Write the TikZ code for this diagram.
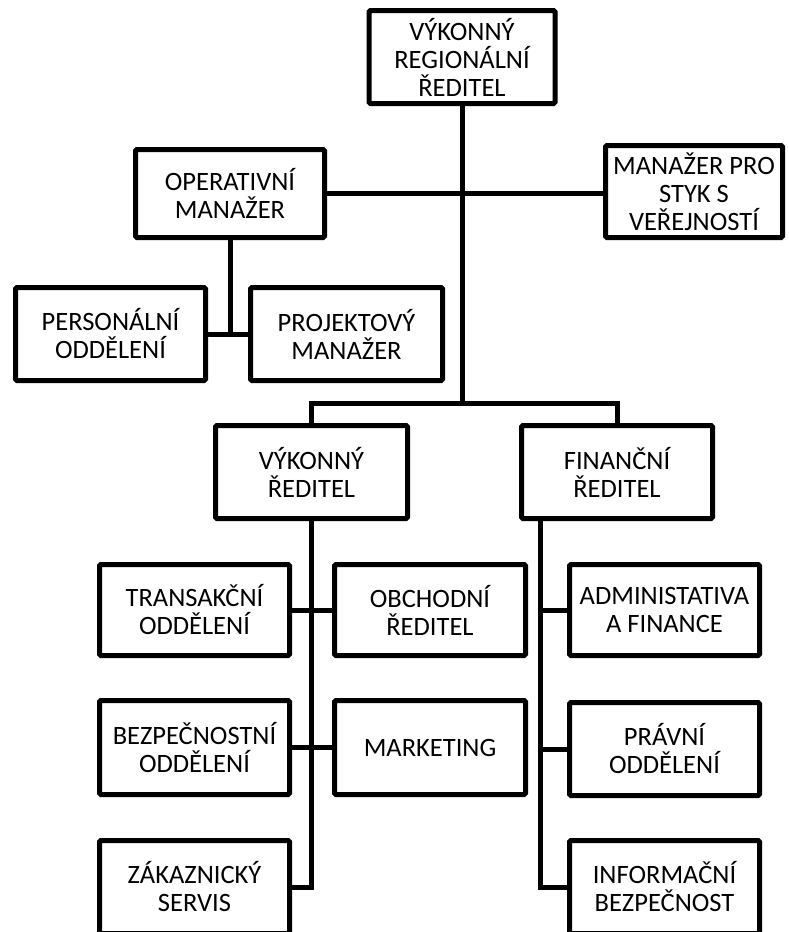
\documentclass[tikz,border=0pt]{standalone}
\usepackage{fontspec}
\setmainfont{Carlito}
\begin{document}
\begin{tikzpicture}[x=1pt,y=-1pt,
  box/.style={draw,line width=5pt,rounded corners=1.5pt,inner sep=0pt,
    minimum width=190pt,minimum height=93pt,align=center,
    font=\fontsize{26.5}{28}\selectfont},
  conn/.style={draw,line width=5pt}]
\clip (0,0) rectangle (789,932);
\node[box,minimum width=186pt] (reg) at (462,57) {VÝKONNÝ\\REGIONÁLNÍ\\ŘEDITEL};
\node[box,minimum width=189pt,minimum height=88pt] (oper) at (230,193.5) {OPERATIVNÍ\\MANAŽER};
\node[box,minimum width=177pt,minimum height=92pt] (styk) at (694,191.5) {MANAŽER PRO\\STYK S\\VEŘEJNOSTÍ};
\node[box] (pers) at (110.5,334) {PERSONÁLNÍ\\ODDĚLENÍ};
\node[box,minimum width=192pt] (proj) at (346.5,334) {PROJEKTOVÝ\\MANAŽER};
\node[box,minimum width=192pt] (vyk) at (311.5,472) {VÝKONNÝ\\ŘEDITEL};
\node[box,minimum width=191pt] (fin) at (617,472) {FINANČNÍ\\ŘEDITEL};
\node[box,minimum height=91pt] (trans) at (194.5,610) {TRANSAKČNÍ\\ODDĚLENÍ};
\node[box,minimum width=191pt,minimum height=91pt] (obch) at (430,610) {OBCHODNÍ\\ŘEDITEL};
\node[box,minimum height=91pt] (admin) at (664.5,610) {ADMINISTATIVA\\A FINANCE};
\node[box,minimum height=94pt] (bezp) at (194.5,747.5) {BEZPEČNOSTNÍ\\ODDĚLENÍ};
\node[box,minimum width=191pt,minimum height=94pt] (mark) at (430,747.5) {MARKETING};
\node[box] (prav) at (664.5,749) {PRÁVNÍ\\ODDĚLENÍ};
\node[box] (zak) at (194.5,887) {ZÁKAZNICKÝ\\SERVIS};
\node[box] (inf) at (664.5,887) {INFORMAČNÍ\\BEZPEČNOST};
\coordinate (bus) at (462,403);
\coordinate (fspine) at (540,0);
\draw[conn] (reg.south) -- (bus);
\draw[conn] (oper.east) -- (oper.east -| styk.west);
\draw[conn] (oper.south) -- (oper.south |- pers.east);
\draw[conn] (pers.east) -- (proj.west);
\draw[conn] (vyk.north) -- (vyk.north |- bus) -- (fin.north |- bus) -- (fin.north);
\draw[conn] (vyk.south) -- (vyk.south |- zak.east) -- (zak.east);
\draw[conn] (trans.east) -- (obch.west);
\draw[conn] (bezp.east) -- (mark.west);
\draw[conn] (fin.south -| fspine) -- (fspine |- inf.west) -- (inf.west);
\draw[conn] (fspine |- admin.west) -- (admin.west);
\draw[conn] (fspine |- prav.west) -- (prav.west);
\end{tikzpicture}
\end{document}
